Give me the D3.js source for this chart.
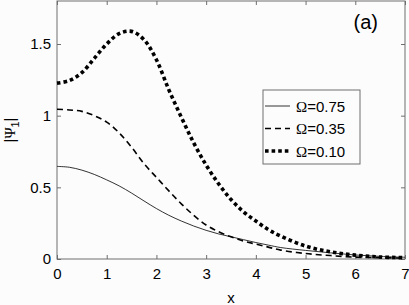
<!DOCTYPE html>
<html>
<head>
<meta charset="utf-8">
<script src="https://cdn.jsdelivr.net/npm/d3@7"></script>
<style>
  body { margin: 0; background: #fcfcfc; }
  svg { display: block; }
  text { font-family: "Liberation Sans", Arial, sans-serif; fill: #000; }
</style>
</head>
<body>
<div id="chart"></div>
<script>
var xs =      [0, 0.25, 0.5, 0.75, 1, 1.25, 1.5, 1.75, 2, 2.25, 2.5, 2.75, 3, 3.25, 3.5, 3.75, 4, 4.25, 4.5, 5, 5.5, 6, 6.5, 7]
var omega75 = [0.646, 0.64, 0.62, 0.59, 0.552, 0.51, 0.46, 0.405, 0.352, 0.305, 0.265, 0.23, 0.2, 0.175, 0.155, 0.135, 0.115, 0.097, 0.08, 0.06, 0.043, 0.028, 0.018, 0.012]
var omega35 = [1.045, 1.04, 1.03, 1.0, 0.955, 0.88, 0.78, 0.665, 0.57, 0.475, 0.385, 0.305, 0.237, 0.19, 0.155, 0.125, 0.104, 0.083, 0.062, 0.038, 0.024, 0.013, 0.009, 0.006]
var omega10 = [1.227, 1.245, 1.3, 1.4, 1.5, 1.572, 1.588, 1.53, 1.39, 1.18, 0.99, 0.81, 0.655, 0.525, 0.415, 0.33, 0.265, 0.205, 0.16, 0.09, 0.05, 0.027, 0.014, 0.009]
var xTicks = [0, 1, 2, 3, 4, 5, 6, 7]
var yTicks = [0, 0.5, 1, 1.5]
var legendLabels = ["0.75", "0.35", "0.10"]

var width = 409, height = 305
var margin = {left: 57, right: 4, top: 1, bottom: 46}

var svg = d3.select("#chart").append("svg")
    .attr("width", width)
    .attr("height", height)

var x = d3.scaleLinear().domain([0, 7]).range([margin.left, width - margin.right])
var y = d3.scaleLinear().domain([0, 1.8]).range([height - margin.bottom, margin.top])

var axisColor = "#6e6e6e"

// box
svg.append("rect")
    .attr("x", x(0)).attr("y", y(1.8))
    .attr("width", x(7) - x(0)).attr("height", y(0) - y(1.8))
    .attr("fill", "#fcfcfc")
    .attr("stroke", axisColor).attr("stroke-width", 1)

// axes with inward ticks
function styleAxis(g) {
    g.select(".domain").remove()
    g.selectAll(".tick line").attr("stroke", axisColor)
    g.selectAll(".tick text").style("font-size", "15px").attr("fill", "#000")
}

svg.append("g")
    .attr("transform", "translate(0," + y(0) + ")")
    .call(d3.axisBottom(x).tickValues(xTicks).tickSize(-4).tickPadding(9).tickFormat(d3.format("d")))
    .call(styleAxis)

svg.append("g")
    .attr("transform", "translate(0," + y(1.8) + ")")
    .call(d3.axisTop(x).tickValues(xTicks).tickSize(-4).tickFormat(""))
    .call(styleAxis)

svg.append("g")
    .attr("transform", "translate(" + x(0) + ",0)")
    .call(d3.axisLeft(y).tickValues(yTicks).tickSize(-4).tickPadding(6).tickFormat(function (d) { return d })
    )
    .call(styleAxis)

svg.append("g")
    .attr("transform", "translate(" + x(7) + ",0)")
    .call(d3.axisRight(y).tickValues(yTicks).tickSize(-4).tickFormat(""))
    .call(styleAxis)

// curves
var series = [
    {values: omega75, width: 0.8, dash: null},
    {values: omega35, width: 1.6, dash: "6,4"},
    {values: omega10, width: 3.6, dash: "3.6,3"}
]

var line = d3.line()
    .x(function (d) { return x(d[0]) })
    .y(function (d) { return y(d[1]) })
    .curve(d3.curveCatmullRom)

series.forEach(function (s) {
    svg.append("path")
        .datum(xs.map(function (v, i) { return [v, s.values[i]] }))
        .attr("d", line)
        .attr("fill", "none")
        .attr("stroke", "#000")
        .attr("stroke-width", s.width)
        .attr("stroke-dasharray", s.dash)
})

// legend
var lg = svg.append("g").attr("transform", "translate(263,90)")
lg.append("rect")
    .attr("width", 97).attr("height", 74)
    .attr("fill", "#fcfcfc")
    .attr("stroke", axisColor).attr("stroke-width", 1)

var entry = lg.selectAll(".legend")
    .data(series)
    .enter().append("g")
    .attr("class", "legend")
    .attr("transform", function (d, i) { return "translate(0," + (16 + i * 22.5) + ")" })

entry.append("line")
    .attr("x1", 2).attr("x2", 27)
    .attr("stroke", "#000")
    .attr("stroke-width", function (d) { return d.width })
    .attr("stroke-dasharray", function (d) { return d.dash })

var lt = entry.append("text")
    .attr("x", 33).attr("y", 5.5)
    .style("font-size", "15px")
lt.append("tspan").style("font-family", "'Liberation Serif', serif").text("\u03A9")
lt.append("tspan").text(function (d, i) { return "=" + legendLabels[i] })

// labels
svg.append("text")
    .attr("x", 378).attr("y", 29)
    .attr("text-anchor", "end")
    .style("font-size", "20px")
    .text("(a)")

svg.append("text")
    .attr("x", x(3.5)).attr("y", 303)
    .attr("text-anchor", "middle")
    .style("font-size", "15px")
    .text("x")

var yl = svg.append("text")
    .attr("transform", "translate(15,130) rotate(-90)")
    .attr("text-anchor", "middle")
    .style("font-size", "15px")
yl.append("tspan").text("|")
yl.append("tspan").style("font-family", "'Liberation Serif', serif").text("\u03A8")
yl.append("tspan").attr("dy", 4).style("font-size", "11px").text("1")
yl.append("tspan").attr("dy", -4).text("|")
</script>
</body>
</html>
